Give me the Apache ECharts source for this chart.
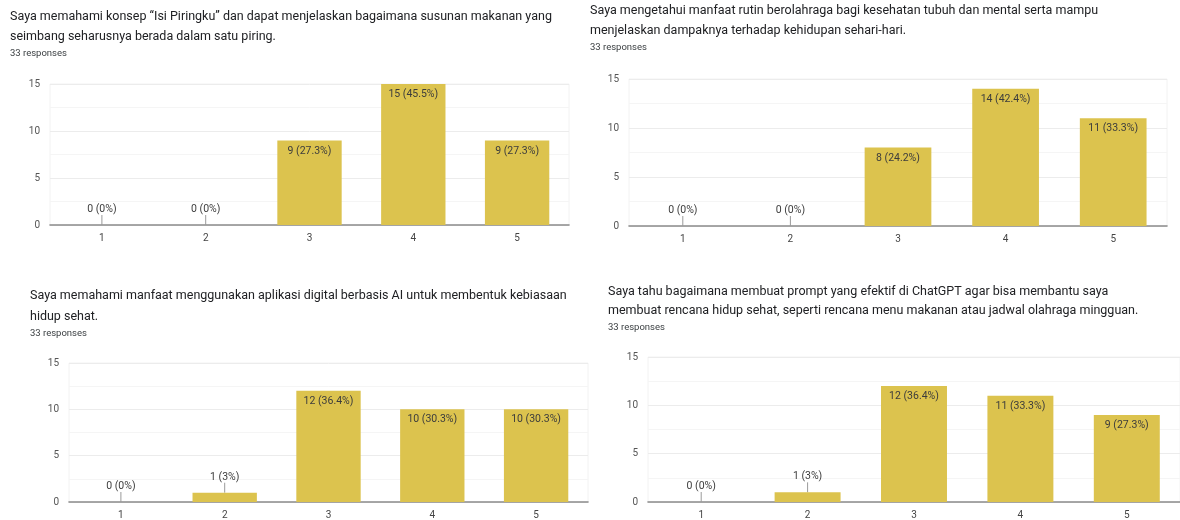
<!DOCTYPE html>
<html>
<head>
<meta charset="utf-8">
<script src="https://cdn.jsdelivr.net/npm/echarts@6/dist/echarts.min.js"></script>
<style>
  html, body { margin: 0; padding: 0; background: #fff; }
  #chart { width: 1180px; height: 520px; }
</style>
</head>
<body>
<div id="chart"></div>
<script>
// data
var categories = ['1', '2', '3', '4', '5'];
var totalResponses = 33;
var yTicks = [0, 5, 10, 15];

var q1Title = 'Saya memahami konsep “Isi Piringku” dan dapat menjelaskan bagaimana susunan makanan yang\nseimbang seharusnya berada dalam satu piring.';
var q1Values = [0, 0, 9, 15, 9];

var q2Title = 'Saya mengetahui manfaat rutin berolahraga bagi kesehatan tubuh dan mental serta mampu\nmenjelaskan dampaknya terhadap kehidupan sehari-hari.';
var q2Values = [0, 0, 8, 14, 11];

var q3Title = 'Saya memahami manfaat menggunakan aplikasi digital berbasis AI untuk membentuk kebiasaan\nhidup sehat.';
var q3Values = [0, 1, 12, 10, 10];

var q4Title = 'Saya tahu bagaimana membuat prompt yang efektif di ChatGPT agar bisa membantu saya\nmembuat rencana hidup sehat, seperti rencana menu makanan atau jadwal olahraga mingguan.';
var q4Values = [0, 1, 12, 11, 9];

var barColor = '#dcc34e';
var font = 'Roboto, "Noto Sans", sans-serif';

// layout of the four panels (pixels)
var panels = [
  { title: q1Title, values: q1Values, tx: 10, ty: 7, lh: 20, grid: { left: 50, top: 84, width: 519, height: 141 } },
  { title: q2Title, values: q2Values, tx: 590, ty: 1, lh: 20, grid: { left: 629, top: 79, width: 538, height: 147 } },
  { title: q3Title, values: q3Values, tx: 30, ty: 286, lh: 20.5, grid: { left: 69, top: 363, width: 519, height: 141 } },
  { title: q4Title, values: q4Values, tx: 608, ty: 282, lh: 19.5, grid: { left: 648, top: 357, width: 532, height: 146 } }
];

function pct(v) {
  var p = Math.round(v / totalResponses * 1000) / 10;
  return v + ' (' + (p % 1 === 0 ? p.toFixed(0) : p.toFixed(1)) + '%)';
}

var titles = [], grids = [], xAxes = [], yAxes = [], series = [];

panels.forEach(function (p, i) {
  titles.push({
    text: p.title,
    subtext: '33 responses',
    left: p.tx,
    top: p.ty,
    padding: 0,
    itemGap: 1,
    textStyle: { fontFamily: font, fontSize: 12.5, fontWeight: 'normal', color: '#202124', lineHeight: p.lh },
    subtextStyle: { fontFamily: font, fontSize: 9.5, color: '#3c4043', lineHeight: 12 }
  });
  grids.push(Object.assign({ containLabel: false, show: true, borderColor: '#f2f2f2', borderWidth: 1 }, p.grid));
  xAxes.push({
    type: 'category',
    gridIndex: i,
    data: categories,
    axisTick: { show: false },
    axisLine: { lineStyle: { color: '#8c8c8c', width: 1.6 } },
    axisLabel: { color: '#444', fontFamily: font, fontSize: 10, margin: 8 }
  });
  yAxes.push({
    type: 'value',
    gridIndex: i,
    min: yTicks[0],
    max: yTicks[yTicks.length - 1],
    interval: 5,
    axisLine: { show: false },
    axisTick: { show: false },
    axisLabel: { color: '#555', fontFamily: font, fontSize: 10, margin: 10 },
    splitLine: { lineStyle: { color: '#ececec' } },
    minorTick: { show: false, splitNumber: 2 },
    minorSplitLine: { show: true, lineStyle: { color: '#f5f5f5' } }
  });
  series.push({
    type: 'bar',
    xAxisIndex: i,
    yAxisIndex: i,
    barCategoryGap: '38%',
    itemStyle: { color: barColor },
    data: p.values.map(function (v) {
      var small = v <= 1;
      return {
        value: v,
        label: small
          ? { position: 'top', distance: 2 }
          : { position: 'insideTop', distance: 5 },
        labelLine: { show: small, lineStyle: { color: '#9a9a9a', width: 1 } }
      };
    }),
    label: {
      show: true,
      color: '#3c3c3c',
      fontFamily: font,
      fontSize: 10.5,
      formatter: function (params) { return pct(params.value); }
    },
    labelLayout: function (params) {
      var v = p.values[params.dataIndex];
      return v <= 1 ? { dy: -8 } : {};
    }
  });
});

var chart = echarts.init(document.getElementById('chart'), null, { renderer: 'canvas' });
chart.setOption({
  animation: false,
  backgroundColor: '#fff',
  title: titles,
  grid: grids,
  xAxis: xAxes,
  yAxis: yAxes,
  series: series
});
</script>
</body>
</html>
